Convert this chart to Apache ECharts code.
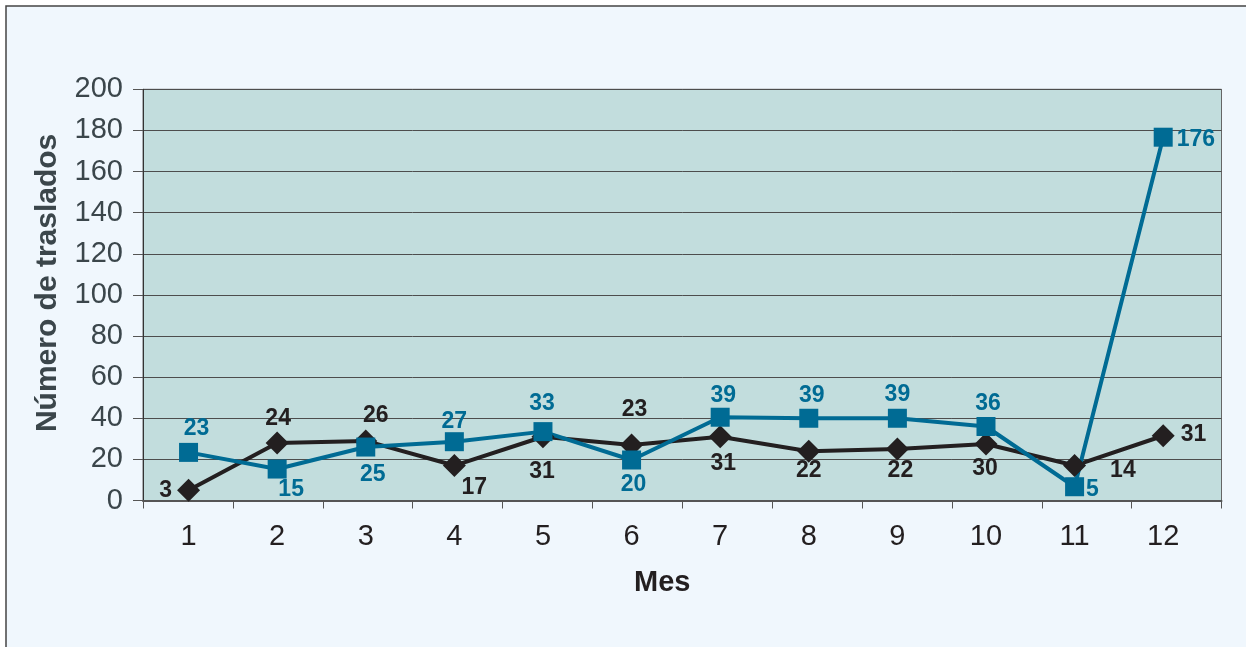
<!DOCTYPE html>
<html>
<head>
<meta charset="utf-8">
<script src="https://cdn.jsdelivr.net/npm/echarts@6/dist/echarts.min.js"></script>
<style>
html, body { margin: 0; background: #ffffff; }
#chart { width: 1246px; height: 647px; }
</style>
</head>
<body>
<div id="chart"></div>
<script>
// datos
var meses = ['1', '2', '3', '4', '5', '6', '7', '8', '9', '10', '11', '12'];
var mesesNum = [1, 2, 3, 4, 5, 6, 7, 8, 9, 10, 11, 12];

// serie negra (rombos): valor dibujado y etiqueta impresa
var valoresNegra = [5, 28, 29, 17, 31, 27, 31, 24, 25, 27.5, 17, 31.5];
var etiquetasNegra = ['3', '24', '26', '17', '31', '23', '31', '22', '22', '30', '14', '31'];

// serie azul (cuadrados)
var valoresAzul = [23.4, 15.3, 26, 28.6, 33.5, 19.7, 40.5, 40, 40, 36, 6.7, 176.7];
var etiquetasAzul = ['23', '15', '25', '27', '33', '20', '39', '39', '39', '36', '5', '176'];

// colocacion de cada etiqueta (solo estilo)
var posNegra = [
    ['left', -4, 0], ['top', 1, 0], ['top', 10, -1], ['bottom', 20, -2],
    ['bottom', -1, 11], ['top', 3, -11], ['bottom', 3, 3], ['bottom', 0, -4],
    ['bottom', 3, -2], ['bottom', -1, 1], ['right', 23, 5], ['right', 5, -1]
];
var posAzul = [
    ['top', 8, -1], ['bottom', 14, -2], ['bottom', 7, 5], ['top', 0, 3],
    ['top', -1, -5], ['bottom', 2, 2], ['top', 3, 1], ['top', 3, 0],
    ['top', 0, -1], ['top', 2, 0], ['right', 0, 3], ['right', 2, 2]
];

var FUENTE = '"Liberation Sans", Arial, sans-serif';
var NEGRO = '#231f20';
var AZUL = '#006b94';

function armarDatos(valores, etiquetas, pos) {
    return valores.map(function (v, i) {
        return {
            value: [mesesNum[i], v],
            label: {
                position: pos[i][0],
                offset: [pos[i][1], pos[i][2]],
                formatter: etiquetas[i]
            }
        };
    });
}

var chart = echarts.init(document.getElementById('chart'));

var option = {
    animation: false,
    graphic: [{
        type: 'rect',
        z: -100,
        silent: true,
        shape: { x: 6, y: 6, width: 1300, height: 700 },
        style: { fill: '#f0f7fd', stroke: '#444', lineWidth: 1.5 }
    }],
    grid: {
        left: 143,
        right: 24.5,
        top: 89.3,
        bottom: 146.5,
        show: true,
        backgroundColor: '#c2dddd',
        borderColor: '#666',
        borderWidth: 1
    },
    xAxis: [
        {
            // eje de marcas (divisiones entre meses)
            type: 'category',
            data: meses,
            boundaryGap: true,
            axisLine: { lineStyle: { color: '#555', width: 2 } },
            axisTick: { show: true, length: 8, lineStyle: { color: '#555', width: 1 } },
            axisLabel: { show: false },
            splitLine: { show: false }
        },
        {
            // eje de los puntos y rotulos
            type: 'value',
            position: 'bottom',
            min: 0.486,
            max: 12.658,
            axisLine: { show: false },
            axisTick: { show: false },
            splitLine: { show: false },
            axisLabel: {
                customValues: mesesNum,
                color: NEGRO,
                fontFamily: FUENTE,
                fontSize: 29,
                margin: 22
            },
            name: 'Mes',
            nameLocation: 'middle',
            nameGap: 68,
            nameTextStyle: {
                color: NEGRO,
                fontFamily: FUENTE,
                fontWeight: 'bold',
                fontSize: 29,
                padding: [0, 40, 0, 0]
            }
        }
    ],
    yAxis: {
        type: 'value',
        min: 0,
        max: 200,
        interval: 20,
        axisLine: { show: true, lineStyle: { color: '#333', width: 1 } },
        axisTick: { show: true, length: 10, lineStyle: { color: '#555' } },
        axisLabel: {
            color: '#3b464b',
            fontFamily: FUENTE,
            fontSize: 29,
            margin: 20
        },
        splitLine: { lineStyle: { color: '#4d4d4d', width: 1 } },
        name: 'Número de traslados',
        nameLocation: 'middle',
        nameGap: 80,
        nameTextStyle: {
            color: '#3b464b',
            fontFamily: FUENTE,
            fontWeight: 'bold',
            fontSize: 30,
            padding: [0, 0, 0, 24]
        }
    },
    series: [
        {
            name: 'negra',
            type: 'line',
            xAxisIndex: 1,
            symbol: 'diamond',
            symbolSize: 23,
            lineStyle: { color: NEGRO, width: 4 },
            itemStyle: { color: NEGRO },
            label: {
                show: true,
                distance: 1,
                color: NEGRO,
                fontFamily: FUENTE,
                fontWeight: 'bold',
                fontSize: 23
            },
            emphasis: { disabled: true },
            data: armarDatos(valoresNegra, etiquetasNegra, posNegra)
        },
        {
            name: 'azul',
            type: 'line',
            xAxisIndex: 1,
            symbol: 'rect',
            symbolSize: 19,
            lineStyle: { color: AZUL, width: 4 },
            itemStyle: { color: AZUL },
            label: {
                show: true,
                distance: 2,
                color: AZUL,
                fontFamily: FUENTE,
                fontWeight: 'bold',
                fontSize: 23
            },
            emphasis: { disabled: true },
            data: armarDatos(valoresAzul, etiquetasAzul, posAzul)
        }
    ]
};
chart.setOption(option);
</script>
</body>
</html>
